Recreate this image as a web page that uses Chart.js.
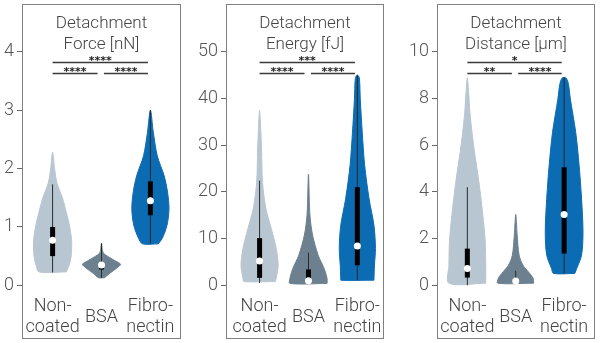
<!DOCTYPE html>
<html>
<head>
<meta charset="utf-8">
<script src="https://cdn.jsdelivr.net/npm/chart.js@4.4.0/dist/chart.umd.min.js"></script>
<style>
  body { margin: 0; background: #fff; width: 608px; height: 343px; position: relative; overflow: hidden; }
  canvas { position: absolute; top: 0; }
</style>
</head>
<body>
<canvas id="forceChart" style="left:0px" width="185" height="343"></canvas>
<canvas id="energyChart" style="left:196px" width="192" height="343"></canvas>
<canvas id="distanceChart" style="left:400px" width="199" height="343"></canvas>
<script>
// groups on the x axis
const categories = [['Non-', 'coated'], ['BSA'], ['Fibro-', 'nectin']];

// violin outlines: y levels and half widths (x units) per group
const forceY = [
    [0.23, 0.35, 0.5, 0.75, 1.0, 1.25, 1.5, 1.75, 2.0, 2.28],
    [0.13, 0.2, 0.3, 0.36, 0.42, 0.5, 0.55, 0.6, 0.72],
    [0.71, 0.8, 1.03, 1.31, 1.6, 1.88, 2.22, 2.62, 3.0]
];
const forceHalfWidth = [
    [0.28, 0.34, 0.38, 0.39, 0.35, 0.28, 0.2, 0.09, 0.04, 0],
    [0.06, 0.16, 0.32, 0.39, 0.28, 0.12, 0.04, 0.02, 0],
    [0.16, 0.24, 0.34, 0.38, 0.35, 0.28, 0.14, 0.06, 0]
];
// [min, q1, median, q3, max]
const forceBox = [
    [0.22, 0.5, 0.77, 1.0, 1.73],
    [0.13, 0.27, 0.35, 0.36, 0.72],
    [0.71, 1.2, 1.45, 1.78, 3.0]
];
const forceTicks = [0, 1, 2, 3, 4];
const forceStars = ['****', '****', '****'];

const energyY = [
    [0.8, 1.5, 4.3, 7.9, 12.1, 16.4, 22, 29.1, 33, 37.4],
    [0.4, 1.5, 3.6, 6.4, 10.7, 15, 23.8],
    [1.1, 1.5, 4.3, 7.9, 12.8, 18.5, 25.6, 32.7, 39.8, 44.4, 45]
];
const energyHalfWidth = [
    [0.32, 0.34, 0.38, 0.34, 0.24, 0.13, 0.06, 0.04, 0.025, 0],
    [0.38, 0.38, 0.32, 0.2, 0.085, 0.03, 0],
    [0.34, 0.34, 0.35, 0.37, 0.34, 0.24, 0.15, 0.1, 0.06, 0.04, 0]
];
const energyBox = [
    [0.5, 1.6, 5.2, 10.1, 22.4],
    [0.4, 0.9, 1.0, 3.4, 7.0],
    [1.1, 4.3, 8.4, 21.0, 45]
];
const energyTicks = [0, 10, 20, 30, 40, 50];
const energyStars = ['***', '****', '****'];

const distanceY = [
    [0.09, 0.86, 1.86, 3.0, 4.41, 5.83, 7.25, 8.3, 8.88],
    [0.09, 0.3, 0.58, 0.86, 1.29, 2.14, 3.03],
    [0.51, 0.72, 1.29, 2.28, 3.7, 5.12, 6.54, 7.96, 8.6, 8.85, 8.9]
];
const distanceHalfWidth = [
    [0.38, 0.38, 0.37, 0.32, 0.24, 0.14, 0.06, 0.025, 0],
    [0.37, 0.36, 0.26, 0.15, 0.07, 0.03, 0],
    [0.22, 0.26, 0.36, 0.39, 0.36, 0.31, 0.24, 0.13, 0.09, 0.05, 0]
];
const distanceBox = [
    [0.0, 0.33, 0.72, 1.57, 4.2],
    [0.09, 0.12, 0.18, 0.3, 0.62],
    [0.51, 1.36, 3.03, 5.05, 8.88]
];
const distanceTicks = [0, 2, 4, 6, 8, 10];
const distanceStars = ['*', '**', '****'];

const groupColors = ['#b8c6d1', '#6c808f', '#0b6bb3'];
const textColor = '#444';
const fontFamily = 'Roboto, "Open Sans", sans-serif';

// closed outline: up the right side, down the left side
function violinOutline(g, ys, ws) {
    const pts = [];
    for (let i = 0; i < ys.length; i++) pts.push({ x: g + ws[i], y: ys[i] });
    for (let i = ys.length - 2; i >= 0; i--) pts.push({ x: g - ws[i], y: ys[i] });
    pts.push({ x: g + ws[0], y: ys[0] });
    return pts;
}

const panelDecor = {
    id: 'panelDecor',
    afterDraw(chart, args, opts) {
        const ctx = chart.ctx;
        const a = chart.chartArea;
        const xs = chart.scales.x;
        const cx = (a.left + a.right) / 2;
        ctx.save();

        // frame
        ctx.strokeStyle = '#808080';
        ctx.lineWidth = 1;
        ctx.strokeRect(Math.round(a.left) + 0.5, Math.round(a.top) + 0.5,
            Math.round(a.right - a.left) - 1, Math.round(a.bottom - a.top) - 1);

        // title, two lines
        ctx.fillStyle = textColor;
        ctx.textAlign = 'center';
        ctx.textBaseline = 'alphabetic';
        ctx.font = '300 17px ' + fontFamily;
        ctx.fillText(opts.title[0], cx, a.top + 24);
        ctx.fillText(opts.title[1], cx, a.top + 44.5);

        // significance brackets
        const brackets = [
            { from: 0, to: 1.95, y: a.top + 58.5, text: opts.stars[0] },
            { from: 0, to: 0.92, y: a.top + 69.5, text: opts.stars[1] },
            { from: 1.05, to: 1.95, y: a.top + 69.5, text: opts.stars[2] }
        ];
        ctx.strokeStyle = '#3a3a3a';
        ctx.lineWidth = 1.3;
        ctx.font = 'bold 11px "DejaVu Sans", sans-serif';
        ctx.fillStyle = '#222';
        brackets.forEach(b => {
            const x0 = xs.getPixelForValue(b.from);
            const x1 = xs.getPixelForValue(b.to);
            ctx.beginPath();
            ctx.moveTo(x0, b.y);
            ctx.lineTo(x1, b.y);
            ctx.stroke();
            ctx.fillText(b.text, (x0 + x1) / 2, b.y + 1.5);
        });

        // group labels under the violins
        ctx.fillStyle = textColor;
        ctx.font = '300 18px ' + fontFamily;
        categories.forEach((lines, g) => {
            const x = xs.getPixelForValue(g);
            if (lines.length === 1) {
                ctx.fillText(lines[0], x, 322);
            } else {
                ctx.fillText(lines[0], x, 311);
                ctx.fillText(lines[1], x, 332);
            }
        });
        ctx.restore();
    }
};

function buildPanel(id, p) {
    const datasets = [];
    for (let g = 0; g < 3; g++) {
        datasets.push({
            data: violinOutline(g, p.ys[g], p.ws[g]),
            fill: 'shape',
            backgroundColor: groupColors[g],
            borderColor: groupColors[g],
            borderWidth: 1,
            pointRadius: 0,
            tension: 0.3,
            order: 3
        });
        const b = p.box[g];
        datasets.push({
            data: [{ x: g, y: b[0] }, { x: g, y: b[4] }],
            borderColor: '#2a2a2a',
            borderWidth: 1,
            pointRadius: 0,
            fill: false,
            order: 2
        });
        datasets.push({
            data: [{ x: g, y: b[1] }, { x: g, y: b[3] }],
            borderColor: '#000',
            borderWidth: 5,
            borderCapStyle: 'butt',
            pointRadius: 0,
            fill: false,
            order: 1
        });
        datasets.push({
            data: [{ x: g, y: b[2] }],
            showLine: false,
            pointRadius: 3.5,
            pointBackgroundColor: '#fff',
            pointBorderWidth: 0,
            order: 0
        });
    }

    new Chart(document.getElementById(id), {
        type: 'line',
        data: { datasets: datasets },
        options: {
            responsive: false,
            animation: false,
            events: [],
            layout: { padding: { top: 4, bottom: 2, right: 2, left: 0 } },
            plugins: {
                legend: { display: false },
                tooltip: { enabled: false },
                panelDecor: { title: p.title, stars: p.stars }
            },
            scales: {
                x: { type: 'linear', display: false, min: p.xMin, max: p.xMax },
                y: {
                    type: 'linear',
                    min: p.yMin,
                    max: p.yMax,
                    afterBuildTicks: s => { s.ticks = p.ticks.map(v => ({ value: v })); },
                    afterFit: s => {
                        // ticks sit well inside the range, no room needed for label overhang
                        s.width = p.axisWidth;
                        s.paddingTop = 0;
                        s.paddingBottom = 0;
                    },
                    border: { display: false },
                    grid: { drawOnChartArea: false, tickLength: 5, color: '#666' },
                    ticks: {
                        color: '#555',
                        padding: 3,
                        font: { family: fontFamily, size: 18, weight: '300' }
                    }
                }
            }
        },
        plugins: [panelDecor]
    });
}

buildPanel('forceChart', {
    title: ['Detachment', 'Force [nN]'], stars: forceStars,
    ys: forceY, ws: forceHalfWidth, box: forceBox, ticks: forceTicks,
    yMin: -0.92, yMax: 4.82, xMin: -0.626, xMax: 2.626, axisWidth: 22
});
buildPanel('energyChart', {
    title: ['Detachment', 'Energy [fJ]'], stars: energyStars,
    ys: energyY, ws: energyHalfWidth, box: energyBox, ticks: energyTicks,
    yMin: -11.49, yMax: 60.21, xMin: -0.687, xMax: 2.545, axisWidth: 30
});
buildPanel('distanceChart', {
    title: ['Detachment', 'Distance [µm]'], stars: distanceStars,
    ys: distanceY, ws: distanceHalfWidth, box: distanceBox, ticks: distanceTicks,
    yMin: -2.298, yMax: 12.04, xMin: -0.627, xMax: 2.638, axisWidth: 37
});
</script>
</body>
</html>
